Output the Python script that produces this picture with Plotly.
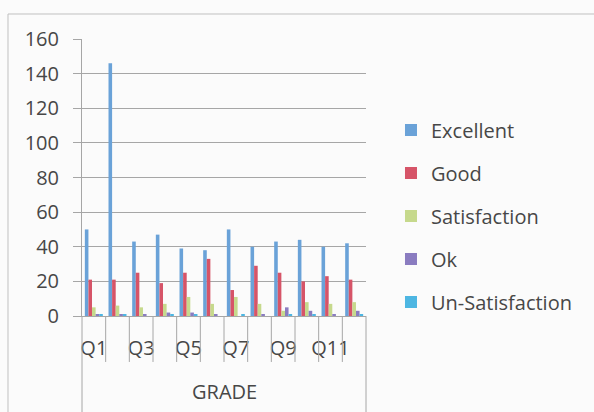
import plotly.graph_objects as go

categories = ["Q1", "Q2", "Q3", "Q4", "Q5", "Q6", "Q7", "Q8", "Q9", "Q10", "Q11", "Q12"]
tick_labels = ["Q1", "", "Q3", "", "Q5", "", "Q7", "", "Q9", "", "Q11", ""]
excellent = [50, 146, 43, 47, 39, 38, 50, 40, 43, 44, 40, 42]
good = [21, 21, 25, 19, 25, 33, 15, 29, 25, 20, 23, 21]
satisfaction = [5, 6, 5, 7, 11, 7, 11, 7, 3, 8, 7, 8]
ok = [1, 1, 1, 2, 2, 1, 0, 1, 5, 3, 1, 3]
un_satisfaction = [1, 1, 0, 1, 1, 0, 1, 0, 1, 1, 0, 1]
axis_title = "GRADE"

series = [
    ("Excellent", excellent, "#6aa2d8"),
    ("Good", good, "#d65468"),
    ("Satisfaction", satisfaction, "#c6d98c"),
    ("Ok", ok, "#8a7cc0"),
    ("Un-Satisfaction", un_satisfaction, "#4db6e2"),
]

FONT = "Open Sans"
FS = 20
TXT = "#474747"
GRID = "#a6a6a6"

fig = go.Figure()
for i, (name, vals, col) in enumerate(series):
    fig.add_trace(go.Bar(x=categories, y=vals, name=name, marker_color=col,
                         marker_line_width=0, legendgroup=f"g{i}"))

n = len(categories)
shapes = []
# outer chart border
shapes.append(dict(type="rect", xref="paper", yref="paper", x0=-0.2606, x1=2.5,
                   y0=-0.8, y1=1.0903, line=dict(color="#c0c0c0", width=1)))
# category dividers below axis
for i in range(n + 1):
    y0 = -0.4 if i in (0, n) else -0.166
    shapes.append(dict(type="line", xref="x domain", yref="paper", x0=i / n, x1=i / n,
                       y0=0, y1=y0, line=dict(color=GRID, width=1)))

fig.update_layout(
    width=594, height=412,
    margin=dict(l=82, r=228, t=39, b=96),
    paper_bgcolor="#fbfbfb", plot_bgcolor="#fbfbfb",
    barmode="group", bargap=0.24, bargroupgap=0,
    font=dict(family=FONT, size=FS, color=TXT),
    showlegend=True,
    legend=dict(x=1.088, xanchor="left", y=0.361, yanchor="middle",
                font=dict(family=FONT, size=FS, color=TXT),
                traceorder="grouped", tracegroupgap=14,
                bgcolor="rgba(0,0,0,0)"),
    shapes=shapes,
    annotations=[dict(text=axis_title, xref="paper", yref="paper", x=0.5, y=-0.274,
                      xanchor="center", yanchor="middle", showarrow=False,
                      font=dict(family=FONT, size=FS, color=TXT))],
)
fig.update_yaxes(range=[0, 160], dtick=20, showgrid=True, gridcolor=GRID, gridwidth=1,
                 showline=True, linecolor=GRID, linewidth=1,
                 ticks="outside", ticklen=8, tickcolor=GRID, ticklabelstandoff=10,
                 tickfont=dict(family=FONT, size=FS, color=TXT), zeroline=False)
fig.update_xaxes(type="category", tickvals=categories, ticktext=tick_labels,
                 showline=True, linecolor=GRID, linewidth=1, ticks="",
                 ticklabelstandoff=14,
                 tickfont=dict(family=FONT, size=FS, color=TXT), showgrid=False)

fig.write_html("out.html", config={"displayModeBar": False},
               post_script="document.body.style.margin='0';")
